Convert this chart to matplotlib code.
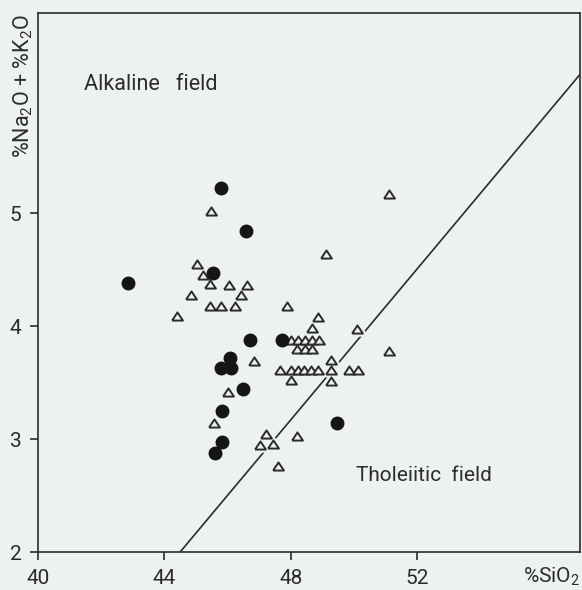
import matplotlib
matplotlib.use("Agg")
import matplotlib.pyplot as plt
import numpy as np

# filled circles (SiO2, Na2O+K2O)
circ_x = [45.80, 42.85, 45.55, 46.60, 46.71, 47.71, 46.07, 45.80, 46.12, 46.49, 45.83, 45.83, 45.60, 49.46]
circ_y = [5.22, 4.38, 4.47, 4.84, 3.88, 3.88, 3.72, 3.63, 3.63, 3.44, 3.25, 2.97, 2.88, 3.14]

# open triangles
tri_x = [45.49, 45.04, 45.21, 45.46, 46.05, 46.63, 44.83, 46.44, 45.44, 45.78, 46.25, 44.41,
         47.87, 48.85, 48.69,
         48.00, 48.22, 48.44, 48.67, 48.89,
         48.21, 48.44, 48.69,
         46.85,
         47.65, 48.00, 48.22, 48.41, 48.63, 48.86, 49.27, 49.85, 50.12,
         48.02, 49.27, 49.27, 50.10, 51.10, 51.12, 49.13,
         46.02, 45.57, 47.22, 47.02, 47.44, 48.21, 47.61]
tri_y = [5.02, 4.55, 4.45, 4.37, 4.36, 4.36, 4.27, 4.27, 4.18, 4.18, 4.18, 4.09,
         4.18, 4.08, 3.98,
         3.88, 3.88, 3.88, 3.88, 3.88,
         3.80, 3.80, 3.80,
         3.69,
         3.61, 3.61, 3.61, 3.61, 3.61, 3.61, 3.61, 3.61, 3.61,
         3.52, 3.70, 3.51, 3.97, 3.78, 5.17, 4.64,
         3.42, 3.14, 3.04, 2.95, 2.96, 3.03, 2.76]

# alkaline / tholeiitic dividing line
div_x = [44.5, 57.2]
div_y = [2.0, 6.24]

xticks = [40, 44, 48, 52]
yticks = [2, 3, 4, 5]

bg = "#edf1ef"
ink = "#2b2b2b"

plt.rcParams["font.family"] = ["Roboto", "DejaVu Sans"]
plt.rcParams["mathtext.default"] = "regular"

fig = plt.figure(figsize=(5.82, 5.90), dpi=100, facecolor=bg)
ax = fig.add_axes([38/582, 1-552/590, (580-38)/582, (552-13)/590])
ax.set_facecolor(bg)

ax.plot(div_x, div_y, color=ink, lw=1.2, zorder=1, solid_capstyle="butt")

tri = [(-1, -0.75), (1, -0.75), (0, 0.75), (-1, -0.75)]
ax.plot(tri_x, tri_y, ls="none", marker=tri, ms=7.8, mfc=bg, mec=bg, mew=4.5, zorder=2)
ax.plot(tri_x, tri_y, ls="none", marker=tri, ms=7.8, mfc=bg, mec=ink, mew=1.4, zorder=3)
ax.plot(circ_x, circ_y, ls="none", marker="o", ms=9, mfc="#151515", mec="#151515", zorder=4)

ax.set_xlim(40, 57.16)
ax.set_ylim(2, 6.77)
ax.set_xticks(xticks)
ax.set_yticks(yticks)
ax.tick_params(direction="out", length=6, width=1.2, color=ink, labelcolor=ink,
               labelsize=15, pad=6)
for s in ax.spines.values():
    s.set_color(ink)
    s.set_linewidth(1.2)

ax.text(41.46, 6.14, "Alkaline   field", fontsize=15.5, color=ink, va="center", ha="left")
ax.text(50.07, 2.68, "Tholeiitic  field", fontsize=15, color=ink, va="center", ha="left")

fig.text(23/582, 1-86/590, r"%Na$_2$O + %K$_2$O", rotation=90, fontsize=15.5, color=ink,
         ha="center", va="center")
fig.text(580/582, 1-577/590, r"%SiO$_2$", fontsize=15, color=ink, ha="right", va="center")

fig.savefig("out.png", dpi=100, facecolor=bg)
